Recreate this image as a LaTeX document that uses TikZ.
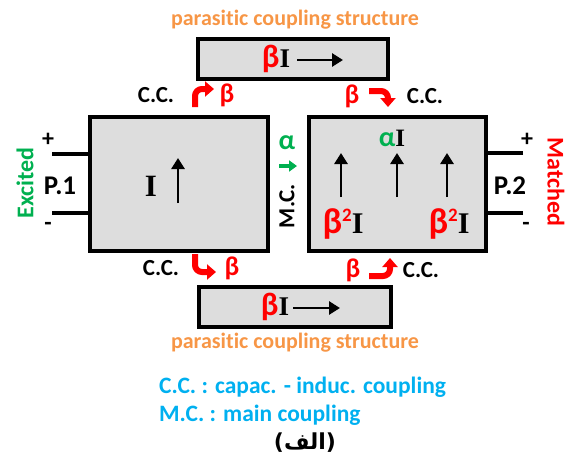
\documentclass[tikz,border=0pt]{standalone}
\usepackage{fontspec}
\setmainfont{Carlito}[Ligatures=NoCommon]
\newfontfamily\serifI{Liberation Serif}
\newfontfamily\arabicfont[Script=Arabic]{DejaVu Sans}
\newfontfamily\parenfont{DejaVu Sans}
\TeXXeTstate=1
\usetikzlibrary{arrows.meta}
\definecolor{ccred}{RGB}{255,0,0}
\definecolor{mcgreen}{RGB}{0,176,80}
\definecolor{parorange}{RGB}{247,150,70}
\definecolor{legblue}{RGB}{0,176,240}
\definecolor{boxgray}{RGB}{221,221,221}
\newcommand{\fs}[1]{\fontsize{#1}{#1}\selectfont}
\newcommand{\curI}{{\serifI\bfseries I}}
\newcommand{\bt}{{\fontsize{1.2em}{1.2em}\selectfont β}}
\newcommand{\sqtwo}{\raisebox{0.42em}{\fs{19}2}}

\tikzset{
  block/.style={draw, fill=boxgray, line width=3.5pt, inner sep=0pt},
  lbl/.style={font=\fs{22}\bfseries, inner sep=0pt},
  port/.style={line width=3.5pt},
  ccarrow/.style={ccred, line width=6pt, rounded corners=7pt, -{Triangle[length=9pt,width=15pt]}},
  current/.style={line width=2.8pt, -{Triangle[length=11pt,width=13pt]}},
}

\begin{document}
\begin{tikzpicture}[x=1pt,y=-1pt]
    \useasboundingbox (0,0) rectangle (576,461);

    \node[block, minimum width=190pt, minimum height=40pt] (topbox) at (293,59) {};
    \node[block, minimum width=192pt, minimum height=40pt] (botbox) at (295,307) {};
    \node[block, minimum width=178pt, minimum height=134pt] (p1box) at (179,184) {};
    \node[block, minimum width=177pt, minimum height=134pt] (p2box) at (397.5,184) {};

    \node[lbl, text=parorange] (toptitle) at (295,20) {parasitic coupling structure};
    \node[lbl, text=parorange] (bottitle) at (295,343) {parasitic coupling structure};

    \node[lbl, font=\fs{27}\bfseries] (topcur) at (276,59) {\textcolor{ccred}{\bt}\curI};
    \coordinate (ta) at (297,60);
    \coordinate (tb) at (343,60);
    \draw[current] (ta) -- (tb);
    \node[lbl, font=\fs{27}\bfseries] (botcur) at (275,307) {\textcolor{ccred}{\bt}\curI};
    \coordinate (ba) at (293,308);
    \coordinate (bb) at (340,308);
    \draw[current] (ba) -- (bb);

    \coordinate (p1a) at (52,154);
    \coordinate (p1b) at (52,213);
    \draw[port] (p1a) -- (p1a -| p1box.west);
    \draw[port] (p1b) -- (p1b -| p1box.west);
    \node[lbl, font=\fs{24}\bfseries] (p1plus) at (48,140) {+};
    \node[lbl, font=\fs{24}\bfseries] (p1minus) at (48,226) {-};
    \node[lbl, font=\fs{27}\bfseries] (p1) at (60,186) {P.1};
    \node[lbl, font=\fs{24}\bfseries, text=mcgreen, rotate=90] (exc) at (25,183) {Excited};

    \coordinate (p2a) at (523,153);
    \coordinate (p2b) at (523,213);
    \draw[port] (p2a) -- (p2a -| p2box.east);
    \draw[port] (p2b) -- (p2b -| p2box.east);
    \node[lbl, font=\fs{24}\bfseries] (p2plus) at (527,140) {+};
    \node[lbl, font=\fs{24}\bfseries] (p2minus) at (526,226) {-};
    \node[lbl, font=\fs{27}\bfseries] (p2) at (510,186) {P.2};
    \node[lbl, font=\fs{24}\bfseries, text=ccred, rotate=-90] (mat) at (556,182) {Matched};

    \node[lbl, font=\fs{31}\bfseries] (i1) at (151,186) {\curI};
    \coordinate (c1a) at (178,203);
    \coordinate (c1b) at (178,158);
    \draw[current] (c1a) -- (c1b);

    \coordinate (c2a) at (341,197);
    \coordinate (c2b) at (341,153);
    \coordinate (c3a) at (397,197);
    \coordinate (c3b) at (397,153);
    \coordinate (c4a) at (447,197);
    \coordinate (c4b) at (447,153);
    \draw[current] (c2a) -- (c2b);
    \draw[current] (c3a) -- (c3b);
    \draw[current] (c4a) -- (c4b);
    \node[lbl, font=\fs{25}\bfseries] (ai) at (392,138) {\textcolor{mcgreen}{\fs{28}α}\curI};
    \node[lbl, font=\fs{30}\bfseries] (b2l) at (343,224) {\textcolor{ccred}{\bt\sqtwo}\curI};
    \node[lbl, font=\fs{30}\bfseries] (b2r) at (449,224) {\textcolor{ccred}{\bt\sqtwo}\curI};

    \node[lbl, font=\fs{28}\bfseries, text=mcgreen] (alpha) at (287,143) {α};
    \coordinate (ma) at (279,166);
    \coordinate (mb) at (297,166);
    \draw[mcgreen, line width=3.5pt, -{Triangle[length=8pt,width=11pt]}] (ma) -- (mb);
    \node[lbl, font=\fs{23}\bfseries, rotate=90] (mc) at (287,206) {M.C.};

    \node[lbl, font=\fs{23}\bfseries] (cc1) at (156,95) {C.C.};
    \node[lbl, font=\fs{27}\bfseries, text=ccred] (b1) at (227,95) {β};
    \coordinate (a1s) at (195,107);
    \coordinate (a1e) at (214,89);
    \draw[ccarrow] (a1s) |- (a1e);

    \node[lbl, font=\fs{27}\bfseries, text=ccred] (b2) at (352,96) {β};
    \node[lbl, font=\fs{23}\bfseries] (cc2) at (425,96) {C.C.};
    \coordinate (a2s) at (369,91);
    \coordinate (a2e) at (388,107);
    \draw[ccarrow] (a2s) -| (a2e);

    \node[lbl, font=\fs{23}\bfseries] (cc3) at (161,268) {C.C.};
    \node[lbl, font=\fs{27}\bfseries, text=ccred] (b3) at (232,268) {β};
    \coordinate (a3s) at (195,254);
    \coordinate (a3e) at (216,272);
    \draw[ccarrow] (a3s) |- (a3e);

    \node[lbl, font=\fs{27}\bfseries, text=ccred] (b4) at (353,270) {β};
    \node[lbl, font=\fs{23}\bfseries] (cc4) at (421,270) {C.C.};
    \coordinate (a4s) at (369,276);
    \coordinate (a4e) at (390,258);
    \draw[ccarrow] (a4s) -| (a4e);

    \node[lbl, font=\fs{23.5}\bfseries, text=legblue, anchor=west] (leg1) at (159,387) {C.C. : capac. - induc. coupling};
    \node[lbl, font=\fs{23.5}\bfseries, text=legblue, anchor=west] (leg2) at (159,415) {M.C. : main coupling};
    \node[inner sep=0pt, font=\fs{22}] (fig) at (305,443) {{\parenfont\bfseries (}{\arabicfont\bfseries\beginR الف\endR}{\parenfont\bfseries )}};
\end{tikzpicture}
\end{document}
